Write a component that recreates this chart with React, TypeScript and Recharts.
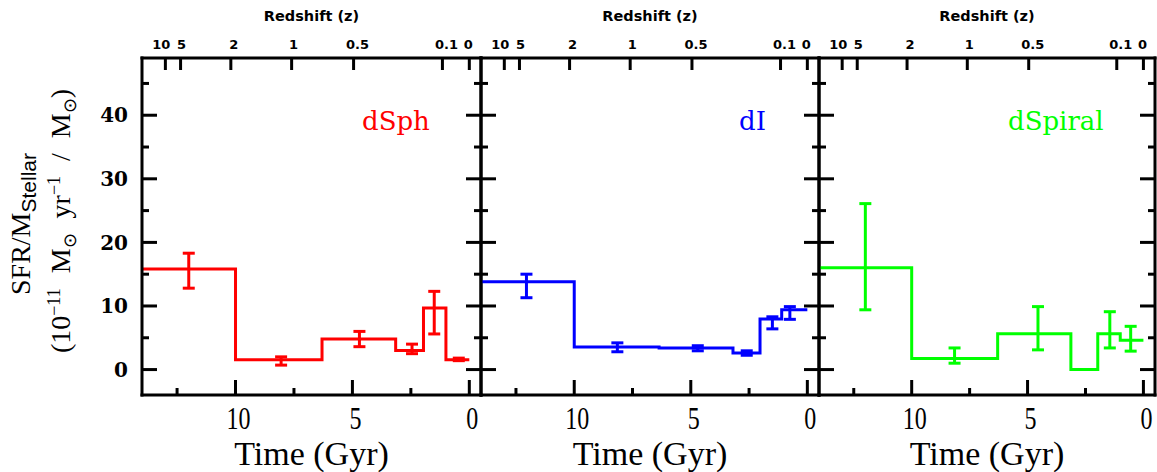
import React from "react";
import { ComposedChart, Line, Scatter, ErrorBar, XAxis, YAxis } from "recharts";

const W = 1157;
const H = 472;
const PLOT_TOP = 58;
const PLOT_BOTTOM = 395;

const timeDomain = [-0.5, 14];
const sfrDomain = [-4, 49];
const timeMajor = [10, 5, 0];
const timeMinor = [12.5, 7.5, 2.5];
const sfrMajor = [0, 10, 20, 30, 40];
const sfrMinor = [5, 15, 25, 35, 45];
const redshiftTimes = [13.0, 12.35, 10.2, 7.6, 4.95, 1.15, 0];
const redshiftLabels = ["10", "5", "2", "1", "0.5", "0.1", "0"];
const redshiftLabelDx = [-4, 1, 3, 2, 4, 4, -1];

// dSph: bin edges (Gyr ago), step values, error bars
const dSphEdges = [14, 10, 6.3, 3.15, 1.96, 1.0, 0];
const dSphSfr = [15.8, 1.55, 4.8, 3.0, 9.7, 1.55, 1.55];
const dSphBarTime = [12.0, 8.05, 4.7, 2.45, 1.5, 0.45];
const dSphBarMid = [15.55, 1.35, 4.8, 3.25, 8.95, 1.6];
const dSphBarErr = [2.75, 0.65, 1.2, 0.75, 3.35, 0.2];

// dI
const dIEdges = [14, 10, 6.36, 3.19, 2.03, 1.1, 0];
const dISfr = [13.8, 3.55, 3.4, 2.6, 7.95, 9.4, 9.4];
const dIBarTime = [12.05, 8.15, 4.7, 2.6, 1.5, 0.75];
const dIBarMid = [13.15, 3.5, 3.35, 2.6, 7.35, 8.9];
const dIBarErr = [1.85, 0.7, 0.4, 0.35, 0.95, 1.0];

// dSpiral
const dSpiralEdges = [14, 10, 6.29, 3.13, 1.97, 1.0, 0];
const dSpiralSfr = [16.0, 1.75, 5.65, 0, 5.65, 4.6, 4.6];
const dSpiralBarTime = [12.0, 8.15, 4.55, 1.45, 0.55];
const dSpiralBarMid = [17.75, 2.2, 6.5, 6.25, 4.85];
const dSpiralBarErr = [8.35, 1.2, 3.4, 2.85, 1.95];

const panels = [
  { name: "dSph", color: "#ff0000", left: 142, right: 481, nameX: 362, yLabels: true,
    edges: dSphEdges, sfr: dSphSfr, barT: dSphBarTime, barMid: dSphBarMid, barErr: dSphBarErr },
  { name: "dI", color: "#0000ff", left: 481, right: 819, nameX: 739, yLabels: false,
    edges: dIEdges, sfr: dISfr, barT: dIBarTime, barMid: dIBarMid, barErr: dIBarErr },
  { name: "dSpiral", color: "#00ff00", left: 819, right: 1155, nameX: 1008, yLabels: false,
    edges: dSpiralEdges, sfr: dSpiralSfr, barT: dSpiralBarTime, barMid: dSpiralBarMid, barErr: dSpiralBarErr },
];

const frame = { stroke: "#000", strokeWidth: 3, strokeLinecap: "square" as const };
const MAJOR = 15;
const MINOR = 7;
const TOP_TICK = 12;

const BottomLabel = (props: any) => (
  <text
    transform={`translate(${Number(props.x) + 3},${Number(props.y) + 34}) scale(0.75,1)`}
    textAnchor="middle" fill="#000" fontSize={32} fontFamily="Liberation Serif"
  >
    {props.payload.value}
  </text>
);

const TopLabel = (props: any) => {
  const i = redshiftTimes.indexOf(props.payload.value);
  return (
    <text
      x={Number(props.x) + redshiftLabelDx[i]} y={Number(props.y) - 9}
      textAnchor="middle" fill="#000" fontSize={13} fontWeight="bold" fontFamily="DejaVu Sans"
    >
      {redshiftLabels[i]}
    </text>
  );
};

const LeftLabel = (props: any) => (
  <text
    x={Number(props.x) - 14} y={Number(props.y)} dy="0.36em"
    textAnchor="end" fill="#000" fontSize={20} fontWeight="bold" fontFamily="DejaVu Serif"
  >
    {props.payload.value}
  </text>
);

const NoLabel = () => <g />;

const TimeTitle = (props: any) => {
  const vb = props.viewBox || {};
  return (
    <text
      x={vb.x + vb.width / 2} y={PLOT_BOTTOM + 70}
      textAnchor="middle" fill="#000" fontSize={34} fontFamily="Liberation Serif"
    >
      Time (Gyr)
    </text>
  );
};

const RedshiftTitle = (props: any) => {
  const vb = props.viewBox || {};
  return (
    <text
      x={vb.x + vb.width / 2} y={21}
      textAnchor="middle" fill="#000" fontSize={14.5} fontWeight="bold" fontFamily="DejaVu Sans"
    >
      Redshift (z)
    </text>
  );
};

const Panel = ({ p }: { p: (typeof panels)[number] }) => {
  const steps = p.edges.map((t, i) => ({ t, v: p.sfr[i] }));
  const bars = p.barT.map((t, i) => ({ t, v: p.barMid[i], err: p.barErr[i] }));
  const margin = { top: PLOT_TOP, bottom: H - PLOT_BOTTOM, left: p.left, right: W - p.right };

  // inward tick marks as tiny two-point line series hanging off the frame
  const pxPerGyr = (p.right - p.left) / (timeDomain[1] - timeDomain[0]);
  const pxPerSfr = (PLOT_BOTTOM - PLOT_TOP) / (sfrDomain[1] - sfrDomain[0]);
  const dT = (len: number) => len / pxPerGyr;
  const dS = (len: number) => len / pxPerSfr;
  const tickSegs: { t: number; v: number }[][] = [
    ...timeMajor.map((t) => [{ t, v: sfrDomain[0] }, { t, v: sfrDomain[0] + dS(MAJOR) }]),
    ...timeMinor.map((t) => [{ t, v: sfrDomain[0] }, { t, v: sfrDomain[0] + dS(MINOR) }]),
    ...redshiftTimes.map((t) => [{ t, v: sfrDomain[1] }, { t, v: sfrDomain[1] - dS(TOP_TICK) }]),
    ...sfrMajor.map((v) => [{ t: timeDomain[1], v }, { t: timeDomain[1] - dT(MAJOR), v }]),
    ...sfrMinor.map((v) => [{ t: timeDomain[1], v }, { t: timeDomain[1] - dT(MINOR), v }]),
    ...sfrMajor.map((v) => [{ t: timeDomain[0], v }, { t: timeDomain[0] + dT(MAJOR), v }]),
    ...sfrMinor.map((v) => [{ t: timeDomain[0], v }, { t: timeDomain[0] + dT(MINOR), v }]),
  ];

  return (
    <div style={{ position: "absolute", left: 0, top: 0 }}>
      <ComposedChart width={W} height={H} margin={margin}>
        <XAxis
          xAxisId="b" dataKey="t" type="number" domain={timeDomain} reversed allowDataOverflow
          orientation="bottom" mirror ticks={timeMajor} interval={0} tickSize={0} tickMargin={0}
          tickLine={false} axisLine={frame} tick={BottomLabel}
          label={{ content: TimeTitle }}
        />
        <XAxis
          xAxisId="t" dataKey="t" type="number" domain={timeDomain} reversed allowDataOverflow
          orientation="top" mirror ticks={redshiftTimes} interval={0} tickSize={0} tickMargin={0}
          tickLine={false} axisLine={frame} tick={TopLabel}
          label={{ content: RedshiftTitle }}
        />
        <YAxis
          yAxisId="l" type="number" domain={sfrDomain} allowDataOverflow orientation="left" mirror
          ticks={sfrMajor} interval={0} tickSize={0} tickMargin={0} tickLine={false}
          axisLine={frame} tick={p.yLabels ? LeftLabel : NoLabel}
        />
        <YAxis
          yAxisId="r" type="number" domain={sfrDomain} allowDataOverflow orientation="right" mirror
          ticks={sfrMajor} interval={0} tickSize={0} tickMargin={0} tickLine={false}
          axisLine={frame} tick={NoLabel}
        />
        <Line data={steps} dataKey="v" xAxisId="t" yAxisId="r" stroke="none" dot={false} activeDot={false} isAnimationActive={false} />
        {tickSegs.map((seg, i) => (
          <Line
            key={"tk" + i} data={seg} dataKey="v" xAxisId="b" yAxisId="l" type="linear"
            stroke="#000" strokeWidth={3} dot={false} activeDot={false} isAnimationActive={false}
          />
        ))}
        <Line
          data={steps} dataKey="v" xAxisId="b" yAxisId="l" type="stepAfter"
          stroke={p.color} strokeWidth={3} dot={false} activeDot={false} isAnimationActive={false}
        />
        <Scatter data={bars} dataKey="v" xAxisId="b" yAxisId="l" shape={() => <g />} isAnimationActive={false}>
          <ErrorBar dataKey="err" direction="y" width={6} stroke={p.color} strokeWidth={3} isAnimationActive={false} />
        </Scatter>
      </ComposedChart>
    </div>
  );
};

export default function App() {
  return (
    <div style={{ position: "absolute", left: 0, top: 0, width: W, height: H, background: "#fff", overflow: "hidden" }}>
      {panels.map((p) => (
        <Panel key={p.name} p={p} />
      ))}
      {panels.map((p) => (
        <div
          key={"n" + p.name}
          style={{
            position: "absolute", left: p.nameX, top: 108, color: p.color, fontFamily: "DejaVu Serif",
            fontSize: 26, lineHeight: 1, whiteSpace: "nowrap",
          }}
        >
          {p.name}
        </div>
      ))}
      <div
        style={{
          position: "absolute", left: 23, top: 224, transform: "translate(-50%, -50%) rotate(-90deg)",
          whiteSpace: "nowrap", fontFamily: "Liberation Serif", fontSize: 28, lineHeight: 1,
        }}
      >
        SFR/M<sub style={{ fontFamily: "Liberation Sans", fontSize: 21 }}>Stellar</sub>
      </div>
      <div
        style={{
          position: "absolute", left: 62, top: 221, transform: "translate(-50%, -50%) rotate(-90deg)",
          whiteSpace: "nowrap", fontFamily: "Liberation Serif", fontSize: 28, lineHeight: 1, wordSpacing: 8,
        }}
      >
        (10<sup style={{ fontSize: 18 }}>−11</sup> M<sub style={{ fontSize: 18 }}>⊙</sub> yr<sup style={{ fontSize: 18 }}>−1</sup> / M<sub style={{ fontSize: 18 }}>⊙</sub>)
      </div>
    </div>
  );
}
